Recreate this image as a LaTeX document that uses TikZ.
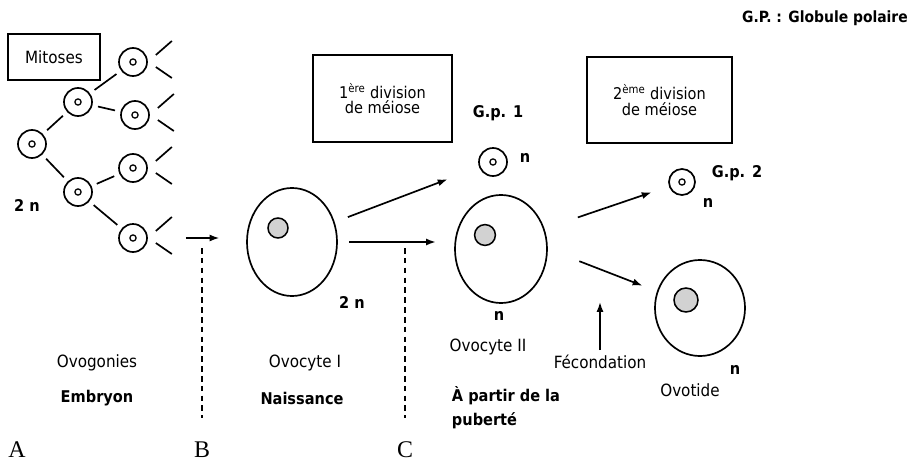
\documentclass[tikz,border=0pt]{standalone}
\usepackage{fontspec}
\setmainfont{DejaVu Sans Condensed}
\newfontfamily\lettre{Liberation Serif}
\usetikzlibrary{shapes.geometric, arrows.meta}

\tikzset{
  cell/.style={draw, circle, line width=1.2pt, minimum size=0.7cm, inner sep=0pt},
  egg/.style={draw, ellipse, line width=1.2pt, inner sep=0pt},
  noyau/.style={draw, circle, line width=1.1pt, fill=gray!35, inner sep=0pt},
  boite/.style={draw, rectangle, line width=1.4pt, align=center, inner sep=0pt,
                font=\fontsize{11.5}{11}\selectfont},
  txt/.style={font=\fontsize{12}{14}\selectfont},
  txtb/.style={font=\fontsize{11.5}{14}\selectfont\bfseries},
  fleche/.style={-{Latex[length=7pt, width=5pt]}, line width=1.2pt},
  lien/.style={line width=1.2pt, shorten <=4pt, shorten >=4pt},
  repere/.style={font=\lettre\fontsize{17}{18}\selectfont},
  tirets/.style={line width=1.1pt, dash pattern=on 4pt off 3pt},
}

\begin{document}
\begin{tikzpicture}[x=0.025cm, y=-0.025cm]
  \useasboundingbox (0,0) rectangle (908,466);

  % ovogonies en mitose
  \foreach \n/\x/\y in {c0/32/144, c1/78/102, c2/78/192,
                        c3/133/62, c4/135/115, c5/133/168, c6/133/238} {
    \node[cell] (\n) at (\x,\y) {};
    \draw[line width=0.9pt] (\n) circle (2.2pt);
  }
  \draw[lien] (c0) -- (c1);
  \draw[lien] (c0) -- (c2);
  \draw[lien] (c1) -- (c3);
  \draw[lien] (c1) -- (c4);
  \draw[lien] (c2) -- (c5);
  \draw[lien] (c2) -- (c6);
  \foreach \n in {c3,c4,c5,c6} {
    \draw[line width=1.2pt] ([shift={(8,-7)}]\n.east) -- ++(16,-14);
    \draw[line width=1.2pt] ([shift={(8,5)}]\n.east) -- ++(16,11);
  }
  \node[boite, minimum width=2.3cm, minimum height=1.15cm,
        font=\fontsize{12}{12}\selectfont] (mitoses) at (54,57) {Mitoses};
  \node[txtb] (n0) at (27,205) {2 n};

  % ovocyte I
  \node[egg, minimum width=2.25cm, minimum height=2.7cm] (oI) at (292,242) {};
  \node[noyau, minimum size=0.5cm] (nI) at (278,228) {};
  \node[txtb] (n1) at (352,302) {2 n};
  \draw[fleche, shorten <=27pt, shorten >=19pt] (c6.east) -- (c6.east -| oI.west);

  \node[boite, minimum width=3.475cm, minimum height=2.175cm] (div1) at (382.5,98.5)
        {1\textsuperscript{ère} division\\de méiose};

  % ovocyte II et premier globule polaire
  \node[egg, minimum width=2.3cm, minimum height=2.7cm] (oII) at (501,249) {};
  \node[noyau, minimum size=0.52cm] (nII) at (485,235) {};
  \node[cell] (gp1) at (493,162) {};
  \draw[line width=0.9pt] (gp1) circle (2.2pt);
  \node[txtb] (lgp1) at (498,113) {G.p. 1};
  \node[txtb] (n2) at (525,158) {n};
  \node[txtb] (n3) at (499,316) {n};
  \draw[fleche, shorten <=10pt, shorten >=24pt] (oI.25) -- (gp1);
  \draw[fleche, shorten <=8pt, shorten >=13pt] (oI.east) -- (oI.east -| oII.west);

  \node[boite, minimum width=3.625cm, minimum height=2.15cm] (div2) at (659.5,100)
        {2\textsuperscript{ème} division\\de méiose};

  % ovotide et second globule polaire
  \node[cell, minimum size=0.65cm] (gp2) at (682,182) {};
  \draw[line width=0.9pt] (gp2) circle (2.2pt);
  \node[txtb] (lgp2) at (737,173) {G.p. 2};
  \node[txtb] (n4) at (708,203) {n};
  \node[egg, minimum width=2.25cm, minimum height=2.4cm] (ov) at (700,308) {};
  \node[noyau, minimum size=0.6cm] (nov) at (686,300) {};
  \node[txtb] (n5) at (735,370) {n};
  \draw[fleche, shorten <=25pt, shorten >=13pt] (oII.25) -- (gp2);
  \draw[fleche, shorten <=24pt, shorten >=11pt] (oII.east) -- (ov);

  % legendes
  \node[txt] (ovog) at (97,363) {Ovogonies};
  \node[txtb] (emb) at (97,398) {Embryon};
  \node[txt] (ovoI) at (305,363) {Ovocyte I};
  \node[txtb] (nais) at (302,398) {Naissance};
  \node[txt] (ovoII) at (488,347) {Ovocyte II};
  \node[txtb, anchor=north west, align=left,
        font=\fontsize{11.5}{17}\selectfont\bfseries] (pub) at (447,382)
        {À partir de la\\puberté};
  \node[txt] (fec) at (600,362) {Fécondation};
  \coordinate (fecpt) at (598,302);
  \draw[fleche] (fec.north) -- (fec.north |- fecpt);
  \node[txt] (ovot) at (690,390) {Ovotide};
  \node[txtb, font=\fontsize{11}{13}\selectfont\bfseries] (gp) at (825,18)
        {G.P. : Globule polaire};

  % repères temporels
  \node[repere] (A) at (17,450) {A};
  \node[repere] (B) at (202,450) {B};
  \node[repere] (C) at (405,450) {C};
  \draw[tirets] (202,248) -- (202,418);
  \draw[tirets] (405,248) -- (405,418);
\end{tikzpicture}
\end{document}
